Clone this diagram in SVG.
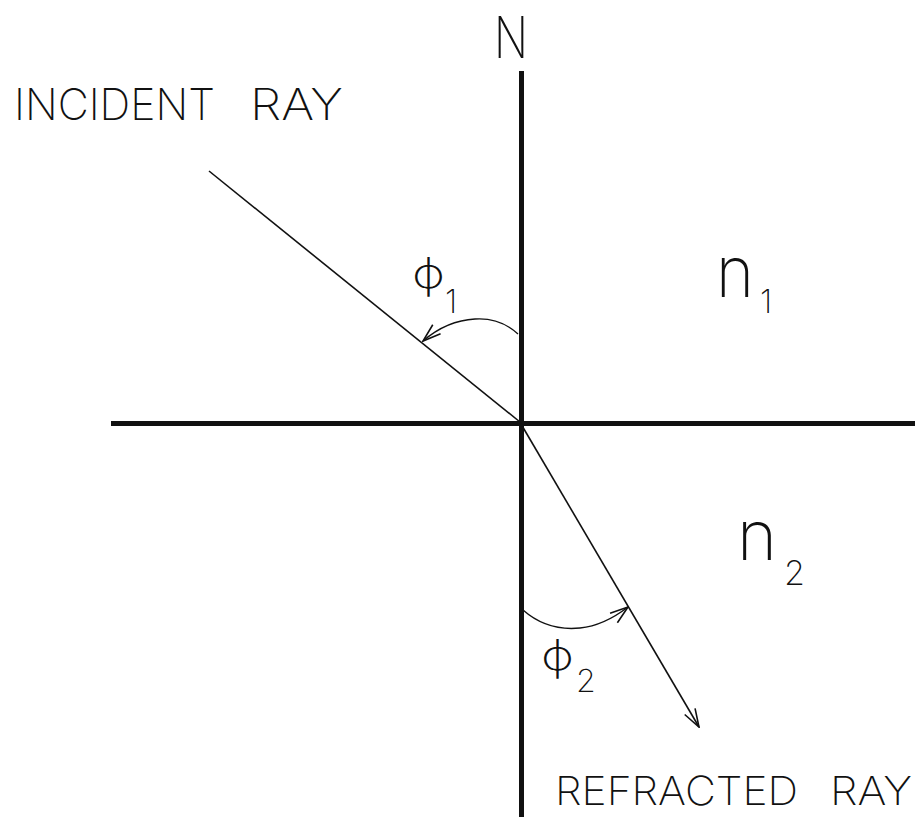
<svg xmlns="http://www.w3.org/2000/svg" width="922" height="817" viewBox="0 0 922 817">
<style>
.t{font-family:Inter,"Liberation Sans",Arial,sans-serif;fill:#111;font-weight:200}
.axis{stroke:#111;stroke-width:5;fill:none}
.ray{stroke:#111;stroke-width:1.6;fill:none}
.arc{stroke:#111;stroke-width:1.4;fill:none}
</style>
<defs>
<marker id="ah" viewBox="0 0 20 14" refX="19" refY="7" markerWidth="20" markerHeight="14" markerUnits="userSpaceOnUse" orient="auto">
<path d="M1,1 L19,7 L1,13" fill="none" stroke="#111" stroke-width="1.6"/>
</marker>
</defs>
<rect width="922" height="817" fill="#fff"/>
<g id="connectors">
<line class="axis" x1="521.5" y1="71" x2="521.5" y2="817"/>
<line class="axis" x1="111" y1="423.5" x2="915" y2="423.5"/>
<line class="ray" x1="209" y1="171" x2="520" y2="422"/>
<line class="ray" x1="521" y1="424" x2="699" y2="727" marker-end="url(#ah)"/>
<path class="arc" d="M518,334 C505,322 490,318 475,319 C455,320 437,329 423,341" marker-end="url(#ah)"/>
<path class="arc" d="M523,610 C540,625 560,630 580,628 C600,626 615,617 628,607" marker-end="url(#ah)"/>
</g>
<g id="label-N"><text class="t" x="494" y="58" font-size="58" textLength="34" lengthAdjust="spacingAndGlyphs">N</text></g>
<g id="incident"><text class="t" y="120" font-size="44"><tspan x="14" textLength="201" lengthAdjust="spacingAndGlyphs">INCIDENT</tspan><tspan x="250" textLength="93" lengthAdjust="spacingAndGlyphs">RAY</tspan></text></g>
<g id="refracted"><text class="t" y="805" font-size="40"><tspan x="555" textLength="243" lengthAdjust="spacingAndGlyphs">REFRACTED</tspan><tspan x="830" textLength="82" lengthAdjust="spacingAndGlyphs">RAY</tspan></text></g>
<g id="phi1"><text class="t" x="412" y="288" font-size="42" textLength="33" lengthAdjust="spacingAndGlyphs">ϕ</text><text class="t" x="445" y="313" font-size="32">1</text></g>
<g id="phi2"><text class="t" x="541" y="670" font-size="42" textLength="33" lengthAdjust="spacingAndGlyphs">ϕ</text><text class="t" x="576" y="692" font-size="32">2</text></g>
<g id="n1"><text class="t" x="716" y="297" font-size="72" textLength="38" lengthAdjust="spacingAndGlyphs">n</text><text class="t" x="760" y="313" font-size="32">1</text></g>
<g id="n2"><text class="t" x="737" y="560" font-size="70" textLength="40" lengthAdjust="spacingAndGlyphs">n</text><text class="t" x="784" y="585" font-size="34">2</text></g>
</svg>
